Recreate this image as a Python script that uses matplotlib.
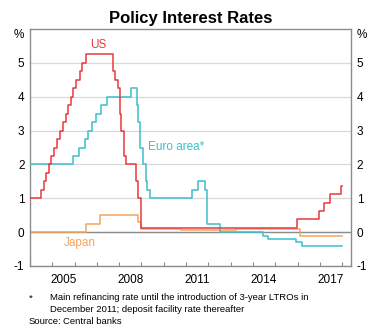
import datetime as dt
import matplotlib
matplotlib.use("Agg")
import matplotlib.pyplot as plt

# policy rate changes: (date, new rate) -- step series
us_dates = ["2004-01-01", "2004-06-30", "2004-08-10", "2004-09-21", "2004-11-10", "2004-12-14",
            "2005-02-02", "2005-03-22", "2005-05-03", "2005-06-30", "2005-08-09", "2005-09-20",
            "2005-11-01", "2005-12-13", "2006-01-31", "2006-03-28", "2006-05-10", "2006-06-29",
            "2007-09-18", "2007-10-31", "2007-12-11", "2008-01-22", "2008-01-30", "2008-03-18",
            "2008-04-30", "2008-10-08", "2008-10-29", "2008-12-16", "2015-12-16", "2016-12-14",
            "2017-03-15", "2017-06-14", "2017-12-13", "2017-12-31"]
us_rates = [1.00, 1.25, 1.50, 1.75, 2.00, 2.25, 2.50, 2.75, 3.00, 3.25, 3.50, 3.75, 4.00, 4.25,
            4.50, 4.75, 5.00, 5.25, 4.75, 4.50, 4.25, 3.50, 3.00, 2.25, 2.00, 1.50, 1.00, 0.125,
            0.375, 0.625, 0.875, 1.125, 1.375, 1.375]

euro_dates = ["2004-01-01", "2005-12-06", "2006-03-08", "2006-06-15", "2006-08-09", "2006-10-11",
              "2006-12-13", "2007-03-14", "2007-06-13", "2008-07-09", "2008-10-15", "2008-11-12",
              "2008-12-10", "2009-01-21", "2009-03-11", "2009-04-08", "2009-05-13", "2011-04-13",
              "2011-07-13", "2011-11-09", "2011-12-14", "2012-07-11", "2014-06-11", "2014-09-10",
              "2015-12-09", "2016-03-16", "2017-12-31"]
euro_rates = [2.00, 2.25, 2.50, 2.75, 3.00, 3.25, 3.50, 3.75, 4.00, 4.25, 3.75, 3.25, 2.50, 2.00,
              1.50, 1.25, 1.00, 1.25, 1.50, 1.25, 0.25, 0.00, -0.10, -0.20, -0.30, -0.40, -0.40]

japan_dates = ["2004-01-01", "2006-07-14", "2007-02-21", "2008-10-31", "2008-12-19", "2010-10-05",
               "2013-04-04", "2016-02-16", "2017-12-31"]
japan_rates = [0.00, 0.25, 0.50, 0.30, 0.10, 0.05, 0.10, -0.10, -0.10]

year_ticks = [2005, 2008, 2011, 2014, 2017]

red = "#e8383d"
teal = "#3cbfcb"
orange = "#f7a35c"


def to_year(s):
    d = dt.date.fromisoformat(s)
    start = dt.date(d.year, 1, 1)
    return d.year + (d - start).days / 365.25


plt.rcParams["font.family"] = ["Liberation Sans", "DejaVu Sans"]

fig = plt.figure(figsize=(3.69, 3.30), dpi=100)
ax = fig.add_axes([30 / 369, 1 - 266 / 330, 321 / 369, 237 / 330])

for v in range(-1, 6):
    ax.axhline(v, color="#d9d9d9", lw=0.9, zorder=0)
ax.axhline(0, color="#8c8c8c", lw=1.0, zorder=1)

ax.step([to_year(d) for d in japan_dates], japan_rates, where="post", color=orange, lw=1.1, zorder=2)
ax.step([to_year(d) for d in euro_dates], euro_rates, where="post", color=teal, lw=1.1, zorder=3)
ax.step([to_year(d) for d in us_dates], us_rates, where="post", color=red, lw=1.1, zorder=4)

ax.set_xlim(2004.0, 2018.4)
ax.set_ylim(-1, 6)

# year ticks at start of each year, labels centred mid-year
ax.set_xticks(range(2004, 2019))
ax.tick_params(axis="x", which="major", direction="in", length=3, color="#8c8c8c", labelbottom=False)
ax.set_xticks([y + 0.5 for y in year_ticks], minor=True)
ax.set_xticklabels([str(y) for y in year_ticks], minor=True)
ax.tick_params(axis="x", which="minor", length=0, labelsize=8.5, pad=6)

yt = list(range(-1, 6)) + [5.88]
ylab = [str(v) for v in range(-1, 6)] + ["%"]
ax.set_yticks(yt)
ax.set_yticklabels(ylab)
ax.tick_params(axis="y", length=0, labelsize=8.5, pad=4, labelright=True, right=False)

for s in ax.spines.values():
    s.set_color("#8c8c8c")
    s.set_linewidth(1.0)

ax.text(2007.05, 5.53, "US", color=red, fontsize=8.5, ha="center", va="center")
ax.text(2009.3, 2.5, "Euro area*", color=teal, fontsize=8.5, ha="left", va="center")
ax.text(2006.25, -0.32, "Japan", color=orange, fontsize=8.5, ha="center", va="center")

fig.text(190.5 / 369, 1 - 18 / 330, "Policy Interest Rates", fontsize=12, fontweight="bold",
         ha="center", va="center")

fs = 6.8
fig.text(31 / 369, 1 - 298 / 330, "*", fontsize=fs, ha="center", va="center")
fig.text(50 / 369, 1 - 297 / 330, "Main refinancing rate until the introduction of 3-year LTROs in",
         fontsize=fs, ha="left", va="center")
fig.text(50 / 369, 1 - 309 / 330, "December 2011; deposit facility rate thereafter",
         fontsize=fs, ha="left", va="center")
fig.text(29 / 369, 1 - 321 / 330, "Source:", fontsize=fs, ha="left", va="center")
fig.text(63 / 369, 1 - 321 / 330, "Central banks", fontsize=fs, ha="left", va="center")

fig.savefig("out.png", dpi=100)
